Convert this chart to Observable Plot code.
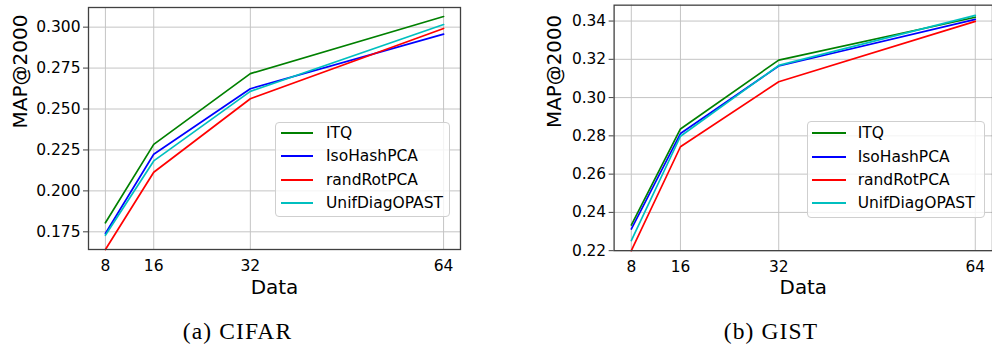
<!DOCTYPE html>
<html><head><meta charset="utf-8">
<script src="https://cdn.jsdelivr.net/npm/d3@7"></script>
<script src="https://cdn.jsdelivr.net/npm/@observablehq/plot@0.6"></script>
<style>
html,body{margin:0;padding:0;background:#fff;}
body{width:992px;height:349px;overflow:hidden;position:relative;font-family:"DejaVu Sans",sans-serif;}
.panel{position:absolute;top:0;}
.panel svg{overflow:visible;}
.legend{position:absolute;background:rgba(255,255,255,0.8);border:1px solid #cfcfcf;border-radius:4px;box-sizing:border-box;font-size:15.5px;color:#000;}
.row{position:absolute;left:0;height:24px;display:flex;align-items:center;white-space:nowrap;}
.sw{display:inline-block;height:0;border-top:2px solid;}
.caption{position:absolute;font-family:"Liberation Serif",serif;font-size:23.5px;letter-spacing:1.1px;white-space:nowrap;transform:translateX(-50%);line-height:1;}
</style></head><body>
<div id="a" class="panel" style="left:0"></div>
<div id="b" class="panel" style="left:500px"></div>
<script>
// ---- data ----
const bits = [8, 16, 32, 64];
const methods = ["ITQ", "IsoHashPCA", "randRotPCA", "UnifDiagOPAST"];
const colors = ["#008000", "#0000ff", "#ff0000", "#00bfbf"];

const cifarITQ      = [0.1805, 0.2284, 0.2716, 0.3065];
const cifarIsoHash  = [0.1740, 0.2224, 0.2624, 0.2957];
const cifarRandRot  = [0.1642, 0.2114, 0.2563, 0.2992];
const cifarUnif     = [0.1729, 0.2183, 0.2608, 0.3016];

const gistITQ       = [0.2334, 0.2836, 0.3196, 0.3420];
const gistIsoHash   = [0.2313, 0.2812, 0.3165, 0.3409];
const gistRandRot   = [0.2200, 0.2743, 0.3083, 0.3398];
const gistUnif      = [0.2253, 0.2798, 0.3168, 0.3430];

const cifarYTicks = [0.175, 0.200, 0.225, 0.250, 0.275, 0.300];
const gistYTicks  = [0.22, 0.24, 0.26, 0.28, 0.30, 0.32, 0.34];
const xLabel = "Data";
const yLabel = "MAP@2000";
const captions = ["(a) CIFAR", "(b) GIST"];

// ---- chart ----
function panel(series, cfg) {
  const data = [];
  series.forEach((vals, i) => vals.forEach((v, j) => data.push({bits: bits[j], map: v, method: methods[i]})));
  return Plot.plot({
    width: cfg.width, height: 300,
    marginLeft: cfg.ml, marginRight: cfg.mr, marginTop: cfg.mt, marginBottom: cfg.mb,
    style: {fontFamily: "DejaVu Sans", fontSize: "15.5px", color: "#000", background: "transparent", overflow: "visible"},
    x: {type: "linear", domain: [5.2, 66.8]},
    y: {type: "linear", domain: cfg.yDomain},
    color: {domain: methods, range: colors},
    marks: [
      Plot.gridX(bits, {stroke: "#c4c4c4", strokeOpacity: 1, strokeWidth: 1}),
      Plot.gridY(cfg.yTicks, {stroke: "#c4c4c4", strokeOpacity: 1, strokeWidth: 1}),
      Plot.line(data, {x: "bits", y: "map", z: "method", stroke: "method", strokeWidth: 1.7}),
      Plot.frame({stroke: "#404040", strokeWidth: 1.3}),
      Plot.axisX({ticks: bits, tickFormat: d => String(d), tickSize: 0, tickPadding: 10, label: null}),
      Plot.axisY({ticks: cfg.yTicks, tickFormat: cfg.fmt, tickSize: 5, tickPadding: 3, stroke: "#404040", label: null}),
      Plot.text([xLabel], {frameAnchor: "bottom", dy: 44, lineAnchor: "bottom", fontSize: 20, fill: "#000"}),
      Plot.text([yLabel], {frameAnchor: "left", rotate: -90, dx: cfg.ylx, fontSize: 20, fill: "#000"})
    ]
  });
}

document.getElementById("a").append(panel([cifarITQ, cifarIsoHash, cifarRandRot, cifarUnif],
  {width: 470, ml: 88, mr: 10, mt: 7, mb: 51, yDomain: [0.1642, 0.3120], yTicks: cifarYTicks, fmt: d3.format(".3f"), ylx: -68}));
document.getElementById("b").append(panel([gistITQ, gistIsoHash, gistRandRot, gistUnif],
  {width: 495, ml: 114.3, mr: 0, mt: 4.7, mb: 48.3, yDomain: [0.22, 0.3483], yTicks: gistYTicks, fmt: d3.format(".2f"), ylx: -59.5}));

// ---- legends ----
function legend(box) {
  const el = document.createElement("div");
  el.className = "legend";
  Object.assign(el.style, {left: box.x + "px", top: box.y + "px", width: box.w + "px", height: box.h + "px"});
  methods.forEach((m, i) => {
    const r = document.createElement("div");
    r.className = "row";
    r.style.top = (box.row0 + i * box.dy - box.y - 12 - 1) + "px";
    const s = document.createElement("span");
    s.className = "sw";
    s.style.borderTopColor = colors[i];
    s.style.width = box.sw + "px";
    s.style.marginLeft = box.swx + "px";
    s.style.marginRight = box.gap + "px";
    const t = document.createElement("span");
    t.textContent = m;
    r.append(s, t);
    el.append(r);
  });
  document.body.append(el);
}
legend({x: 275, y: 122, w: 175, h: 95, row0: 133, dy: 23.3, sw: 32, swx: 5, gap: 13});
legend({x: 806.7, y: 120.7, w: 178, h: 97.6, row0: 133.3, dy: 23.3, sw: 33.7, swx: 4.3, gap: 12});

// ---- captions ----
[[captions[0], 237.5], [captions[1], 771]].forEach(([txt, cx]) => {
  const c = document.createElement("div");
  c.className = "caption";
  c.textContent = txt;
  c.style.left = cx + "px";
  c.style.top = "320px";
  document.body.append(c);
});
</script>
</body></html>
